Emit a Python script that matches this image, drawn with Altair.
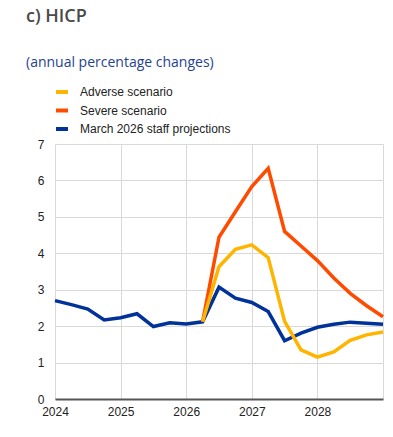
import altair as alt
import pandas as pd

quarters = [2024 + i * 0.25 for i in range(21)]
baseline = [2.70, 2.59, 2.47, 2.17, 2.23, 2.34, 1.99, 2.09, 2.06, 2.12,
            3.07, 2.77, 2.65, 2.40, 1.60, 1.81, 1.97, 2.05, 2.11, 2.08, 2.05]
severe = [2.12, 4.44, 5.14, 5.83, 6.33, 4.60, 4.20, 3.80, 3.32, 2.90, 2.56, 2.26]
adverse = [2.12, 3.63, 4.11, 4.23, 3.88, 2.13, 1.35, 1.15, 1.29, 1.61, 1.76, 1.84]
scen_start = 9

series_names = ["Adverse scenario", "Severe scenario", "March 2026 staff projections"]
series_colors = ["#FFB400", "#FF4B00", "#003299"]
draw_order = {"March 2026 staff projections": 0, "Severe scenario": 1, "Adverse scenario": 2}

rows = []
for x, v in zip(quarters, baseline):
    rows.append({"date": x, "value": v, "series": series_names[2]})
for x, v in zip(quarters[scen_start:], severe):
    rows.append({"date": x, "value": v, "series": series_names[1]})
for x, v in zip(quarters[scen_start:], adverse):
    rows.append({"date": x, "value": v, "series": series_names[0]})
df = pd.DataFrame(rows)
df["ord"] = df["series"].map(draw_order)
df = df.sort_values(["ord", "date"])

x_ticks = [2024, 2025, 2026, 2027, 2028, 2029]
y_ticks = [0, 1, 2, 3, 4, 5, 6, 7]

chart = alt.Chart(df).mark_line(strokeWidth=3.5, strokeJoin="miter", strokeCap="butt").encode(
    x=alt.X("date:Q", scale=alt.Scale(domain=[2024, 2029], nice=False),
            axis=alt.Axis(values=x_ticks, format="d", title=None, ticks=False,
                          labelExpr="datum.value == 2029 ? '' : datum.label",
                          labelFlush=False, labelOverlap=False,
                          labelPadding=7, grid=True, domain=True,
                          domainColor="#555555", domainWidth=2)),
    y=alt.Y("value:Q", scale=alt.Scale(domain=[0, 7], nice=False),
            axis=alt.Axis(values=y_ticks, title=None, ticks=False, domain=False,
                          labelOverlap=False, labelFlush=False,
                          labelPadding=11, grid=True)),
    color=alt.Color("series:N",
                    scale=alt.Scale(domain=series_names, range=series_colors),
                    legend=alt.Legend(title=None, orient="none", legendX=-1, legendY=-60,
                                      symbolType="stroke", symbolSize=144,
                                      symbolStrokeWidth=4, labelOffset=10,
                                      rowPadding=2.5, padding=0,
                                      labelFont="Liberation Sans", labelFontSize=12,
                                      labelColor="#222222")),
    detail="series:N",
    order=alt.Order("ord:Q"),
).properties(
    width=328,
    height=255,
    autosize=alt.AutoSizeParams(type="none"),
    padding={"left": 47, "top": 136, "right": 2, "bottom": 30},
    title=alt.TitleParams(
        "c) HICP",
        subtitle="(annual percentage changes)",
        anchor="start",
        frame="group",
        dx=-29,
        font="Open Sans",
        fontSize=18,
        fontWeight=600,
        color="#4a4a4a",
        subtitleFont="Open Sans",
        subtitleFontSize=14,
        subtitleColor="#1f4391",
        subtitlePadding=30,
        offset=14,
    ),
).configure_axis(
    labelFont="Liberation Sans",
    labelFontSize=12,
    labelColor="#222222",
    gridColor="#d9d9d9",
    gridWidth=1,
).configure_view(stroke=None)

chart.save("out.html", embed_options={"renderer": "svg", "actions": False})
